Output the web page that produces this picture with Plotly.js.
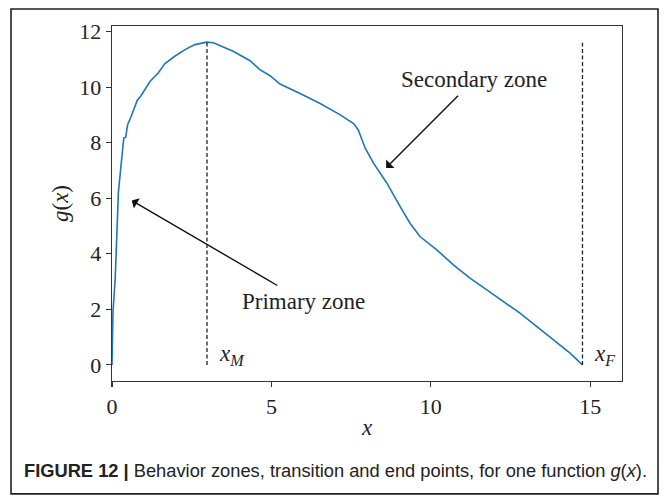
<!DOCTYPE html>
<html>
<head>
<meta charset="utf-8">
<script src="https://cdn.plot.ly/plotly-3.0.1.min.js"></script>
<style>html,body{margin:0;padding:0;background:#fff;} #chart{width:664px;height:496px;}</style>
</head>
<body>
<div id="chart"></div>
<script>
// Curve g(x)
const xValues = [0, 0.03, 0.1, 0.2, 0.25, 0.32, 0.37, 0.43, 0.49, 0.61, 0.79, 0.91, 1.19, 1.45, 1.66, 1.97, 2.29, 2.6, 2.97, 3.18, 3.8, 4.33, 4.64, 4.96, 5.27, 5.9, 6.53, 7.15, 7.59, 7.73, 7.94, 8.2, 8.62, 9.04, 9.35, 9.66, 9.98, 10.19, 10.71, 11.23, 11.76, 12.28, 12.8, 13.33, 13.85, 14.37, 14.76];
const gValues = [0, 1.9, 3.1, 6.2, 6.8, 7.75, 8.17, 8.2, 8.65, 8.97, 9.52, 9.69, 10.2, 10.51, 10.85, 11.11, 11.35, 11.53, 11.62, 11.6, 11.29, 10.95, 10.63, 10.41, 10.11, 9.77, 9.41, 9.01, 8.68, 8.45, 7.81, 7.27, 6.55, 5.7, 5.1, 4.62, 4.32, 4.14, 3.6, 3.12, 2.7, 2.28, 1.86, 1.38, 0.9, 0.42, 0];

// Transition and end points
const markerNames = ['<i>x</i><sub><i>M</i></sub>', '<i>x</i><sub><i>F</i></sub>'];
const markerX = [2.98, 14.76];
const markerTop = 11.6;
const markerLabelX = [3.3, 15.05];
const markerLabelY = 0.36;

// Zone annotations (text centre and arrow head)
const zoneNames = ['Primary zone', 'Secondary zone'];
const zoneTextX = [6.02, 11.36];
const zoneTextY = [2.3, 10.27];
const zoneHeadX = [0.62, 8.6];
const zoneHeadY = [5.92, 7.09];

const xTicks = [0, 5, 10, 15];
const yTicks = [0, 2, 4, 6, 8, 10, 12];

const caption = '<b>FIGURE 12 |</b> Behavior zones, transition and end points, for one function <i>g</i>(<i>x</i>).';

const serif = 'Liberation Serif, Times New Roman, serif';
const fsTick = 22;
const fsText = 23;

const traces = [{
  x: xValues, y: gValues, type: 'scatter', mode: 'lines',
  line: {color: '#1f77b4', width: 1.6}, hoverinfo: 'skip', showlegend: false
}];
markerX.forEach(function (mx) {
  traces.push({
    x: [mx, mx], y: [0, markerTop], type: 'scatter', mode: 'lines',
    line: {color: '#222', width: 1.3, dash: '4px,2.5px'}, showlegend: false, hoverinfo: 'skip'
  });
});

const annotations = [];
markerNames.forEach(function (name, i) {
  annotations.push({x: markerLabelX[i], y: markerLabelY, xref: 'x', yref: 'y', text: name,
    showarrow: false, xanchor: 'left', yanchor: 'middle', font: {family: serif, size: fsText, color: '#222'}});
});
zoneNames.forEach(function (name, i) {
  annotations.push({x: zoneHeadX[i], y: zoneHeadY[i], xref: 'x', yref: 'y',
    ax: zoneTextX[i], ay: zoneTextY[i], axref: 'x', ayref: 'y', text: name,
    xanchor: 'center', yanchor: 'middle',
    font: {family: serif, size: fsText, color: '#222'},
    showarrow: true, arrowhead: 1, arrowsize: 1.4, arrowwidth: 1.4, arrowcolor: '#111',
    standoff: 0, startstandoff: 3});
});
annotations.push({x: -0.176, y: -0.251, xref: 'paper', yref: 'paper', text: caption, showarrow: false,
  xanchor: 'left', yanchor: 'middle', font: {family: 'Liberation Sans, Arial, sans-serif', size: 18.3, color: '#222'}});

const layout = {
  width: 664, height: 496,
  margin: {l: 112, r: 42, t: 26, b: 115, pad: 0},
  paper_bgcolor: '#fff', plot_bgcolor: '#fff',
  showlegend: false,
  xaxis: {
    range: [0, 16], tickvals: xTicks, ticktext: xTicks.map(String),
    ticks: 'outside', ticklen: 5, tickwidth: 1.2, tickcolor: '#333',
    showline: true, mirror: true, linecolor: '#333', linewidth: 1.3,
    showgrid: false, zeroline: false,
    tickfont: {family: serif, size: fsTick, color: '#222'},
    title: {text: '<i>x</i>', font: {family: serif, size: fsText, color: '#222'}, standoff: 1}
  },
  yaxis: {
    range: [-0.58, 12.2], tickvals: yTicks, ticktext: yTicks.map(String),
    ticks: 'outside', ticklen: 5, tickwidth: 1.2, tickcolor: '#333',
    showline: true, mirror: true, linecolor: '#333', linewidth: 1.3,
    showgrid: false, zeroline: false,
    tickfont: {family: serif, size: fsTick, color: '#222'},
    title: {text: '<i>g</i>(<i>x</i>)', font: {family: serif, size: fsText, color: '#222'}, standoff: 4}
  },
  shapes: [{type: 'rect', xref: 'paper', yref: 'paper', x0: -0.198, x1: 1.0706, y0: -0.318, y1: 1.048,
    line: {color: '#222', width: 1.6}, fillcolor: 'rgba(0,0,0,0)', layer: 'above'}],
  annotations: annotations
};

Plotly.newPlot('chart', traces, layout, {staticPlot: true, displayModeBar: false});
</script>
</body>
</html>
